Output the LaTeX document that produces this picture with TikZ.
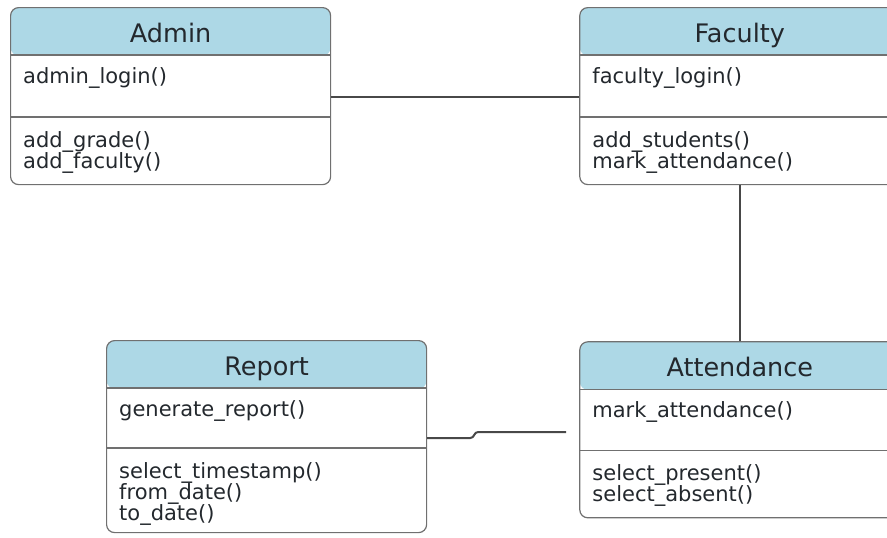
\documentclass[tikz,border=0pt]{standalone}
\usepackage{fontspec}
\setmainfont{DejaVu Sans}
\usetikzlibrary{positioning}
\definecolor{headblue}{RGB}{173,216,230}
\definecolor{boxgray}{RGB}{112,112,112}
\definecolor{linkgray}{RGB}{72,72,72}
\definecolor{inkdark}{RGB}{35,40,45}

\begin{document}
\begin{tikzpicture}[x=1pt,y=-1pt,font=\fontsize{21}{21}\selectfont,text=inkdark,
  class/.style={rectangle,rounded corners=8pt,draw=boxgray,line width=1.2pt,minimum width=320pt,inner sep=0,
    path picture={\fill[headblue] (path picture bounding box.north west) rectangle ([yshift=-48pt]path picture bounding box.north east);}},
  classname/.style={inner sep=0,font=\fontsize{25.5}{25.5}\selectfont},
  member/.style={inner sep=0,align=left},
  divider/.style={draw=boxgray,line width=1.2pt},
  link/.style={draw=linkgray,line width=2pt}]
  \useasboundingbox (0,0) rectangle (887,538);
  % class boxes
  \node (admin) [class,minimum height=177pt,anchor=north west] at (10,7) {};
  \node (faculty) [class,minimum height=177pt,right=248pt of admin] {};
  \node (attendance) [class,minimum height=176pt,below=156pt of faculty] {};
  \node (report) [class,minimum height=192pt,anchor=north west] at (106,340) {};
  % names
  \node (admin name) [classname,below=35.5pt of admin.north,anchor=base] {Admin};
  \node (faculty name) [classname,below=35.5pt of faculty.north,anchor=base] {Faculty};
  \node (attendance name) [classname,below=35.5pt of attendance.north,anchor=base] {Attendance};
  \node (report name) [classname,below=35.5pt of report.north,anchor=base] {Report};
  % compartments
  \foreach \c/\d in {admin/110,faculty/110,attendance/109,report/108} {
    \draw[divider] ([yshift=-48pt]\c.north west) -- ([yshift=-48pt]\c.north east);
    \draw[divider] ([yshift=-\d pt]\c.north west) -- ([yshift=-\d pt]\c.north east);
  }
  \node (admin attr) [member,below right=60pt and 13pt of admin.north west] {admin\_login()};
  \node (admin ops) [member,below right=124pt and 13pt of admin.north west] {add\_grade()\\add\_faculty()};
  \node (faculty attr) [member,below right=60pt and 13pt of faculty.north west] {faculty\_login()};
  \node (faculty ops) [member,below right=124pt and 13pt of faculty.north west] {add\_students()\\mark\_attendance()};
  \node (attendance attr) [member,below right=60pt and 13pt of attendance.north west] {mark\_attendance()};
  \node (attendance ops) [member,below right=123pt and 13pt of attendance.north west] {select\_present()\\select\_absent()};
  \node (report attr) [member,below right=60pt and 13pt of report.north west] {generate\_report()};
  \node (report ops) [member,below right=122pt and 13pt of report.north west] {select\_timestamp()\\from\_date()\\to\_date()};
  % associations
  \coordinate (report end) at (566,432);
  \draw[link] ([yshift=-90pt]admin.north east) -- ([yshift=-90pt]faculty.north west);
  \draw[link] (faculty.south) -- (attendance.north);
  \draw[link,rounded corners=3pt] ([yshift=-98pt]report.north east) -- ++(46,0) -- ++(2,-6) -- (report end);
\end{tikzpicture}
\end{document}
